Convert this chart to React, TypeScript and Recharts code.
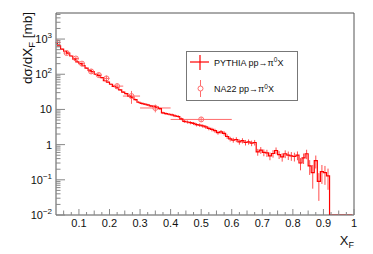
import React from "react";
import {
  ComposedChart,
  Line,
  Scatter,
  XAxis,
  YAxis,
  ErrorBar,
  ReferenceLine,
  Legend,
  Label,
} from "recharts";

const FONT = '"Liberation Sans", Arial, Helvetica, sans-serif';

const xMin = 0.025;
const xMax = 1;
const yMin = 0.01;
const yMax = 5500;

// PYTHIA histogram, bins of 0.01 starting at 0.02 (centres 0.025 ... 0.995)
const pythiaFirstCentre = 0.025;
const pythiaBinWidth = 0.01;
const pythiaValues = [
  790, 640, 520, 450, 400, 330, 270, 225, 200, 175,
  150, 128, 118, 100, 92, 80, 66, 60, 52, 45,
  41, 36, 31, 28, 24, 22, 19, 16, 14.8, 14.2,
  13.5, 12.6, 12.2, 11.6, 10.5, 8.0, 7.6, 7.3, 7.0, 6.6,
  6.3, 5.4, 4.6, 4.4, 4.2, 4.0, 3.7, 3.6, 3.4, 3.2,
  2.9, 2.7, 2.5, 2.2, 2.3, 2.1, 1.7, 1.45, 1.35, 1.4,
  1.2, 1.3, 1.15, 1.2, 1.1, 1.15, 0.62, 0.7, 0.6, 0.58,
  0.48, 0.56, 0.68, 0.52, 0.45, 0.55, 0.5, 0.48, 0.46, 0.5,
  0.3, 0.42, 0.55, 0.25, 0.16, 0.35, 0.09, 0.17, 0.16, 0.13,
  0, 0, 0, 0, 0, 0, 0, 0,
];
const pythiaRelErr = [
  0.03, 0.03, 0.03, 0.03, 0.03, 0.03, 0.03, 0.035, 0.035, 0.035,
  0.035, 0.04, 0.04, 0.04, 0.04, 0.045, 0.045, 0.045, 0.05, 0.05,
  0.05, 0.05, 0.055, 0.055, 0.06, 0.06, 0.06, 0.065, 0.065, 0.065,
  0.07, 0.07, 0.07, 0.07, 0.075, 0.08, 0.08, 0.08, 0.085, 0.085,
  0.09, 0.09, 0.1, 0.1, 0.1, 0.1, 0.11, 0.11, 0.11, 0.12,
  0.12, 0.12, 0.13, 0.13, 0.13, 0.14, 0.15, 0.15, 0.16, 0.16,
  0.17, 0.17, 0.18, 0.17, 0.18, 0.18, 0.22, 0.22, 0.22, 0.23,
  0.25, 0.24, 0.22, 0.25, 0.27, 0.25, 0.27, 0.28, 0.28, 0.28,
  0.38, 0.33, 0.3, 0.45, 0.65, 0.4, 0.72, 0.55, 0.55, 0.6,
  0, 0, 0, 0, 0, 0, 0, 0,
];

// NA22 measured points
const na22X = [0.03, 0.06, 0.09, 0.11, 0.14, 0.165, 0.19, 0.225, 0.272, 0.35, 0.5];
const na22Y = [800, 400, 280, 200, 120, 95, 76, 46, 24, 11, 5.2];
const na22XErr = [0.005, 0.01, 0.01, 0.01, 0.01, 0.01, 0.01, 0.02, 0.028, 0.05, 0.1];
const na22YRelErr = [0.15, 0.12, 0.12, 0.12, 0.15, 0.15, 0.2, 0.2, 0.4, 0.25, 0.15];

const xTickValues = [0.1, 0.2, 0.3, 0.4, 0.5, 0.6, 0.7, 0.8, 0.9, 1];
const xTickLabels = ["0.1", "0.2", "0.3", "0.4", "0.5", "0.6", "0.7", "0.8", "0.9", "1"];
const yTickValues = [0.01, 0.1, 1, 10, 100, 1000];
const yTickLabels = [
  { base: "10", exp: "\u22122" },
  { base: "10", exp: "\u22121" },
  { base: "1", exp: "" },
  { base: "10", exp: "" },
  { base: "10", exp: "2" },
  { base: "10", exp: "3" },
];

const pythiaData = pythiaValues.map((v, i) => {
  const r = pythiaRelErr[i];
  return {
    x: +(pythiaFirstCentre + i * pythiaBinWidth).toFixed(3),
    y: v > 0 ? v : yMin,
    err: [v * r, v * r],
  };
});

const na22Data = na22X.map((x, i) => ({
  x,
  y: na22Y[i],
  ex: na22XErr[i],
  ey: na22Y[i] * na22YRelErr[i],
}));

// minor ticks
const xMinorTicks: number[] = [];
for (let k = 2; k <= 40; k++) {
  const v = +(k * 0.025).toFixed(3);
  if (!xTickValues.some((t) => Math.abs(t - v) < 1e-6)) xMinorTicks.push(v);
}
const xAllTicks = [...xTickValues, ...xMinorTicks].sort((a, b) => a - b);

const yMinorTicks: number[] = [];
for (let d = -2; d <= 3; d++) {
  for (let m = 2; m <= 9; m++) {
    const v = +(m * Math.pow(10, d)).toPrecision(3);
    if (v < yMax) yMinorTicks.push(v);
  }
}
const yAllTicks = [...yTickValues, ...yMinorTicks].sort((a, b) => a - b);

const RED = "#ff0000";
const PINK = "#ff6b6b";
const AXIS = "#555";
const TICK = "#888";

const XTick = (props: any) => {
  const { x, y, payload } = props;
  const v = payload.value;
  const idx = xTickValues.findIndex((t) => Math.abs(t - v) < 1e-6);
  if (idx < 0) {
    const half = Math.abs(v * 20 - Math.round(v * 20)) < 1e-6;
    return <line x1={x} x2={x} y1={y} y2={y - (half ? 4.5 : 3)} stroke={TICK} />;
  }
  return (
    <g>
      <line x1={x} x2={x} y1={y} y2={y - 6} stroke={TICK} />
      <text x={x} y={y + 12} textAnchor="middle" fontSize={11} fontFamily={FONT} fill="#111">
        {xTickLabels[idx]}
      </text>
    </g>
  );
};

const YTick = (props: any) => {
  const { x, y, payload } = props;
  const v = payload.value;
  const idx = yTickValues.findIndex((t) => Math.abs(Math.log10(t) - Math.log10(v)) < 1e-6);
  if (idx < 0) {
    return <line x1={x} x2={x + 4.5} y1={y} y2={y} stroke={TICK} />;
  }
  const lab = yTickLabels[idx];
  return (
    <g>
      <line x1={x} x2={x + 9} y1={y} y2={y} stroke={TICK} />
      <text x={x - 4} y={y + 4} textAnchor="end" fontSize={11} fontFamily={FONT} fill="#111">
        {lab.base}
        {lab.exp && (
          <tspan dy={-5} fontSize={8}>
            {lab.exp}
          </tspan>
        )}
      </text>
    </g>
  );
};

const OpenCircle = (props: any) => {
  const { cx, cy } = props;
  return <circle cx={cx} cy={cy} r={2.5} fill="none" stroke={PINK} strokeWidth={1} />;
};

const LegendBox = () => (
  <div
    style={{
      width: 112,
      height: 50,
      border: "1px solid #777",
      background: "#fff",
      boxSizing: "border-box",
    }}
  >
    <svg width={110} height={48} style={{ display: "block" }}>
      <line x1={3} x2={22} y1={10} y2={10} stroke={RED} strokeWidth={1.2} />
      <line x1={13} x2={13} y1={3} y2={18} stroke={RED} strokeWidth={1.2} />
      <text x={27} y={13.5} fontSize={9} fontFamily={FONT} fill="#111">
        PYTHIA pp{"\u2192\u03c0"}
        <tspan dy={-3.5} fontSize={6.5}>0</tspan>
        <tspan dy={3.5}>X</tspan>
      </text>
      <line x1={13.5} x2={13.5} y1={28} y2={45} stroke={PINK} strokeWidth={1} />
      <circle cx={13.5} cy={36.5} r={2.5} fill="#fff" stroke={PINK} strokeWidth={1} />
      <text x={27} y={40} fontSize={9} fontFamily={FONT} fill="#111">
        NA22 pp{"\u2192\u03c0"}
        <tspan dy={-3.5} fontSize={6.5}>0</tspan>
        <tspan dy={3.5}>X</tspan>
      </text>
    </svg>
  </div>
);

export default function App() {
  return (
    <div style={{ position: "absolute", left: 0, top: 0, width: 373, height: 254, background: "#fff" }}>
      <ComposedChart width={373} height={254} margin={{ top: 13, right: 19, bottom: 0, left: 0 }}>
        <XAxis
          dataKey="x"
          type="number"
          domain={[xMin, xMax]}
          allowDataOverflow
          ticks={xAllTicks}
          interval={0}
          tick={(p: any) => <XTick {...p} />}
          tickLine={false}
          tickSize={0}
          tickMargin={0}
          height={39}
          axisLine={{ stroke: AXIS }}
        >
          <Label
            content={() => (
              <text x={354} y={245} textAnchor="end" fontSize={13} fontFamily={FONT} fill="#111">
                X
                <tspan dy={3} fontSize={9}>F</tspan>
              </text>
            )}
          />
        </XAxis>
        <YAxis
          dataKey="y"
          type="number"
          scale="log"
          domain={[yMin, yMax]}
          allowDataOverflow
          ticks={yAllTicks}
          interval={0}
          tick={(p: any) => <YTick {...p} />}
          tickLine={false}
          tickSize={0}
          tickMargin={0}
          width={56}
          axisLine={{ stroke: AXIS }}
        >
          <Label
            content={() => (
              <text
                x={32}
                y={12}
                transform="rotate(-90 32 12)"
                textAnchor="end"
                fontSize={13.5}
                fontFamily={FONT}
                fill="#111"
              >
                d{"\u03c3"}/dX
                <tspan dy={3} fontSize={9.5}>F</tspan>
                <tspan dy={-3}> [mb]</tspan>
              </text>
            )}
          />
        </YAxis>
        <ReferenceLine y={yMax} stroke={AXIS} ifOverflow="visible" />
        <ReferenceLine x={xMax} stroke={AXIS} ifOverflow="visible" />
        <Scatter
          data={na22Data}
          dataKey="y"
          shape={(p: any) => <OpenCircle {...p} />}
          isAnimationActive={false}
        >
          <ErrorBar dataKey="ex" direction="x" width={0} stroke={PINK} strokeWidth={1} />
          <ErrorBar dataKey="ey" direction="y" width={0} stroke={PINK} strokeWidth={1} />
        </Scatter>
        <Line
          data={pythiaData}
          dataKey="y"
          type="step"
          stroke={RED}
          strokeWidth={1.2}
          dot={false}
          isAnimationActive={false}
        >
          <ErrorBar dataKey="err" direction="y" width={0} stroke="#ff4d4d" strokeWidth={1} />
        </Line>
        <Legend
          layout="vertical"
          verticalAlign="middle"
          align="center"
          content={() => <LegendBox />}
          wrapperStyle={{ left: 186, top: 51, width: 112, height: 50 }}
        />
      </ComposedChart>
    </div>
  );
}
